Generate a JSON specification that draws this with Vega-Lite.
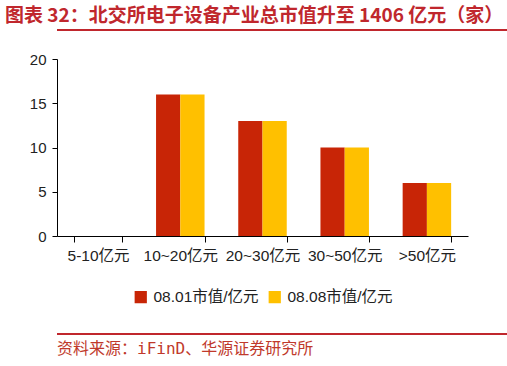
{
  "$schema": "https://vega.github.io/schema/vega-lite/v6.json",
  "background": "white",
  "padding": {"left": 5, "right": 5, "top": 7, "bottom": 5},
  "title": {
    "text": "图表 32：北交所电子设备产业总市值升至 1406 亿元（家）",
    "anchor": "start",
    "font": "Noto Sans CJK SC",
    "fontSize": 19,
    "fontWeight": "bold",
    "color": "#C0272D",
    "offset": 3
  },
  "spacing": 21,
  "resolve": {"scale": {"color": "independent"}, "legend": {"color": "independent"}},
  "config": {
    "view": {"stroke": null},
    "font": "Liberation Sans, Noto Sans CJK SC",
    "legend": {"layout": {"bottom": {"anchor": "middle"}}}
  },
  "vconcat": [
    {
      "width": 496,
      "height": 2,
      "data": {"values": []},
      "mark": "text",
      "encoding": {},
      "view": {"fill": "#C0272D", "stroke": null}
    },
    {
      "width": 411,
      "height": 177,
      "data": {
        "values": [
          {"range": "5-10亿元", "series": "08.01市值/亿元", "value": 0},
          {"range": "5-10亿元", "series": "08.08市值/亿元", "value": 0},
          {"range": "10~20亿元", "series": "08.01市值/亿元", "value": 16},
          {"range": "10~20亿元", "series": "08.08市值/亿元", "value": 16},
          {"range": "20~30亿元", "series": "08.01市值/亿元", "value": 13},
          {"range": "20~30亿元", "series": "08.08市值/亿元", "value": 13},
          {"range": "30~50亿元", "series": "08.01市值/亿元", "value": 10},
          {"range": "30~50亿元", "series": "08.08市值/亿元", "value": 10},
          {"range": ">50亿元", "series": "08.01市值/亿元", "value": 6},
          {"range": ">50亿元", "series": "08.08市值/亿元", "value": 6}
        ]
      },
      "mark": {"type": "bar"},
      "encoding": {
        "x": {
          "field": "range",
          "type": "nominal",
          "sort": ["5-10亿元", "10~20亿元", "20~30亿元", "30~50亿元", ">50亿元"],
          "scale": {"paddingInner": 0.41, "paddingOuter": 0.205},
          "axis": {
            "title": null,
            "labelAngle": 0,
            "tickBand": "extent",
            "domainColor": "#000000",
            "tickColor": "#000000",
            "tickSize": 6,
            "labelFontSize": 15.5,
            "labelColor": "#222222",
            "labelPadding": 6
          }
        },
        "xOffset": {
          "field": "series",
          "type": "nominal",
          "sort": ["08.01市值/亿元", "08.08市值/亿元"],
          "scale": {"paddingInner": 0, "paddingOuter": 0}
        },
        "y": {
          "field": "value",
          "type": "quantitative",
          "scale": {"domain": [0, 20]},
          "axis": {
            "title": null,
            "values": [0, 5, 10, 15, 20],
            "grid": false,
            "tickSize": 5,
            "labelPadding": 6,
            "minExtent": 52,
            "labelFontSize": 15,
            "labelColor": "#222222",
            "domainColor": "#000000",
            "tickColor": "#000000"
          }
        },
        "color": {
          "field": "series",
          "type": "nominal",
          "scale": {
            "domain": ["08.01市值/亿元", "08.08市值/亿元"],
            "range": ["#C82506", "#FFC000"]
          },
          "legend": {
            "title": null,
            "orient": "bottom",
            "direction": "horizontal",
            "symbolType": "square",
            "symbolSize": 150,
            "symbolStrokeWidth": 0,
            "labelFontSize": 15.5,
            "labelColor": "#222222",
            "offset": 19,
            "padding": 6,
            "columnPadding": 8,
            "labelOffset": 5
          }
        }
      }
    },
    {
      "width": 496,
      "height": 2,
      "data": {"values": []},
      "mark": "text",
      "encoding": {},
      "view": {"fill": "#C0272D", "stroke": null},
      "title": {
        "text": "资料来源：iFinD、华源证券研究所",
        "orient": "bottom",
        "anchor": "start",
        "font": "DejaVu Sans Mono, Noto Sans CJK SC",
        "fontSize": 16,
        "fontWeight": "normal",
        "color": "#C0392B",
        "offset": 6
      }
    }
  ]
}
